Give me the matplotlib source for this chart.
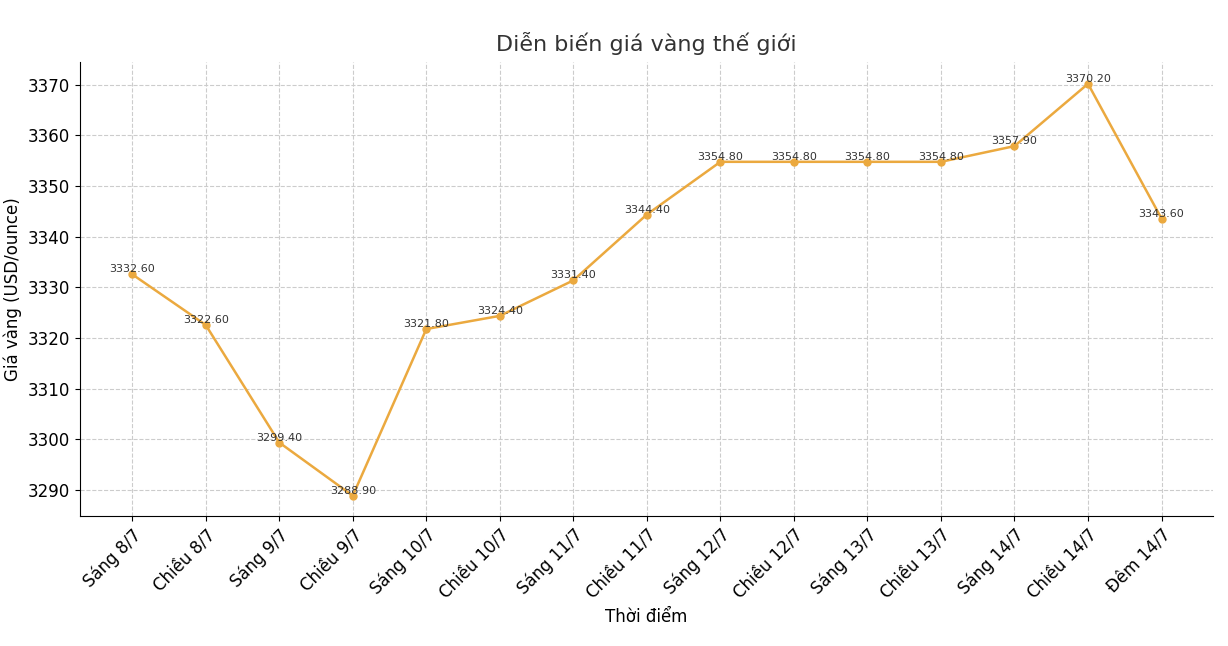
import matplotlib.pyplot as plt

times = ["Sáng 8/7", "Chiều 8/7", "Sáng 9/7", "Chiều 9/7", "Sáng 10/7", "Chiều 10/7",
         "Sáng 11/7", "Chiều 11/7", "Sáng 12/7", "Chiều 12/7", "Sáng 13/7", "Chiều 13/7",
         "Sáng 14/7", "Chiều 14/7", "Đêm 14/7"]
prices = [3332.6, 3322.6, 3299.4, 3288.9, 3321.8, 3324.4, 3331.4, 3344.4,
          3354.8, 3354.8, 3354.8, 3354.8, 3357.9, 3370.2, 3343.6]

fig = plt.figure(figsize=(12.28, 6.46), dpi=100)
ax = fig.add_axes([80 / 1228, 1 - 516 / 646, 1133 / 1228, 454 / 646])

x = list(range(len(times)))
ax.plot(x, prices, color="#EBA93F", marker="o", markersize=5, linewidth=1.8)
for xi, p in zip(x, prices):
    ax.text(xi, p, f"{p:.2f}", ha="center", va="bottom", fontsize=8, color="#333333")

ax.set_xlim(-0.71, 14.7)
ax.set_ylim(3284.9, 3374.5)
ax.set_xticks(x)
ax.set_xticklabels(times, rotation=45, ha="right", rotation_mode="anchor", fontsize=12)
ax.tick_params(axis="y", labelsize=12)
ax.grid(True, linestyle="--", color="#cccccc", linewidth=0.8)
ax.spines["top"].set_visible(False)
ax.spines["right"].set_visible(False)
ax.set_title("Diễn biến giá vàng thế giới", fontsize=16, color="#333333", pad=8)
ax.set_xlabel("Thời điểm", fontsize=12)
ax.set_ylabel("Giá vàng (USD/ounce)", fontsize=12)

fig.savefig("out.png", dpi=100, facecolor="white")
